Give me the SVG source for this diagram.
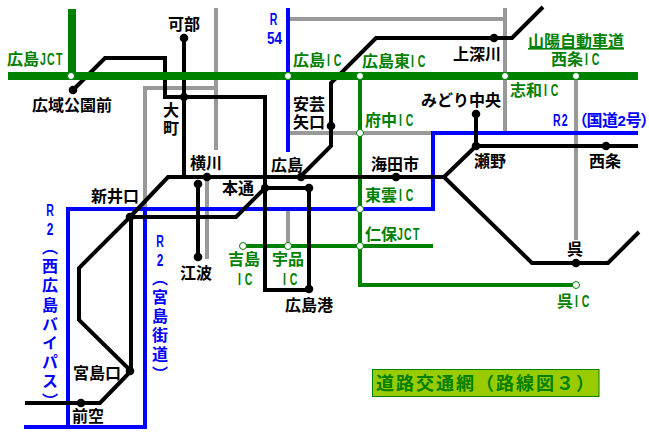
<svg xmlns="http://www.w3.org/2000/svg" width="649" height="438" viewBox="0 0 649 438">
<style>
text{font-family:"Noto Sans CJK JP","Noto Sans",sans-serif;font-weight:700;font-size:16px}
.k{fill:#000}.g{fill:#008000}.b{fill:#0000ff}
.n{font-family:"Liberation Sans",sans-serif;font-size:17px}
.ic{letter-spacing:6px}
.jct{letter-spacing:2px}
.p{font-feature-settings:"palt"}
.m{text-anchor:middle}
.v{writing-mode:vertical-rl;letter-spacing:3.2px}
.l{fill:none;stroke-linejoin:miter;stroke-linecap:butt}
.gy{stroke:#999;stroke-width:4}.bk{stroke:#000;stroke-width:4}.bl{stroke:#00f;stroke-width:4}
.gn{stroke:#008000;stroke-width:4}.gn8{stroke:#008000;stroke-width:8}
.st{fill:#000}.o{fill:#fff;stroke:#008000;stroke-width:1}
</style>
<rect width="649" height="438" fill="#fff"/>
<g id="connectors">
<path class="l gy" d="M216 8V150M216 88H145V209M288 19H505M505 8V133M288 133H433M576 76V240M207 180V259M288 209V246"/>
<path class="l bl" d="M288 8V152M24 427H145V209M68 427V209H433V133H638"/>
<path class="l gn" d="M243 246H433M360 76V285H576"/>
<path class="l bk" d="M73 90L105 58H165V97H265V290H309V188H265L236 217H130L79 268V320L131 371L100 403H25M131 217V371M184 38V177M198 183V257M130 217L168 177H444L476 146H638M444 177L532 263H608L639 232M300 177L331 146V83L376 38H512L543 7M476 114V146"/>
<path class="l gn8" d="M8 76H638M72 9V76"/>
</g>
<g id="nodes">
<g id="n-hiroshima-jct"><circle class="o" cx="71" cy="76" r="3.500"/><text class="g" x="7" y="65">広島</text><text class="g n jct" transform="translate(40 65) scale(.62 1)">JCT</text></g>
<g id="n-hiroshima-ic"><circle class="o" cx="288" cy="76" r="3.500"/><text class="g" x="293" y="66">広島</text><text class="g n ic" transform="translate(327 66) scale(.62 1)">IC</text></g>
<g id="n-higashi-ic"><circle class="o" cx="360" cy="76" r="3.500"/><text class="g" x="362" y="67">広島東</text><text class="g n ic" transform="translate(411 67) scale(.62 1)">IC</text></g>
<g id="n-shiwa-ic"><circle class="o" cx="505" cy="76" r="3.500"/><text class="g" x="510" y="96">志和</text><text class="g n ic" transform="translate(544 96) scale(.62 1)">IC</text></g>
<g id="n-saijo-ic"><circle class="o" cx="576" cy="76" r="3.500"/><text class="g" x="551" y="65">西条</text><text class="g n ic" transform="translate(585 65) scale(.62 1)">IC</text></g>
<g id="n-sanyo"><text class="g" x="528" y="47" text-decoration="underline">山陽自動車道</text></g>
<g id="n-fuchu-ic"><circle class="o" cx="360" cy="133" r="3.500"/><text class="g" x="365" y="126">府中</text><text class="g n ic" transform="translate(399 126) scale(.62 1)">IC</text></g>
<g id="n-shinonome-ic"><circle class="o" cx="360" cy="209" r="3.500"/><text class="g" x="365" y="201">東雲</text><text class="g n ic" transform="translate(399 201) scale(.62 1)">IC</text></g>
<g id="n-niho-jct"><circle class="o" cx="360" cy="246" r="3.500"/><text class="g" x="365" y="240">仁保</text><text class="g n jct" transform="translate(397 240) scale(.62 1)">JCT</text></g>
<g id="n-yoshijima-ic"><circle class="o" cx="243" cy="246" r="3.500"/><text class="g" x="228" y="265">吉島</text><text class="g n ic" transform="translate(238 285) scale(.62 1)">IC</text></g>
<g id="n-ujina-ic"><circle class="o" cx="288" cy="246" r="3.500"/><text class="g" x="272" y="265">宇品</text><text class="g n ic" transform="translate(283 285) scale(.62 1)">IC</text></g>
<g id="n-kure-ic"><circle class="o" cx="576" cy="285" r="3.500"/><text class="g" x="557" y="307">呉</text><text class="g n ic" transform="translate(575 307) scale(.62 1)">IC</text></g>
<g id="n-kabe"><circle class="st" cx="184" cy="38" r="4.300"/><text class="k" x="168" y="30">可部</text></g>
<g id="n-koiki"><circle class="st" cx="73" cy="90" r="4.300"/><text class="k" x="32" y="111">広域公園前</text></g>
<g id="n-omachi"><circle class="st" cx="184" cy="97" r="4"/><text class="k" x="163" y="116">大</text><text class="k" x="163" y="134">町</text></g>
<g id="n-yokogawa"><circle class="st" cx="207" cy="177" r="4.300"/><text class="k" x="190" y="169">横川</text></g>
<g id="n-hiroshima"><circle class="st" cx="301" cy="177" r="4.300"/><text class="k" x="271" y="171">広島</text></g>
<g id="n-hondori"><circle class="st" cx="265" cy="188" r="4"/><text class="k" x="222" y="194">本通</text></g>
<g id="n-hakushima"><circle class="st" cx="309" cy="188" r="4.300"/><circle class="st" cx="198" cy="184" r="4.300"/></g>
<g id="n-aki"><circle class="st" cx="331" cy="126" r="4.300"/><text class="k" x="293" y="110">安芸</text><text class="k" x="293" y="128">矢口</text></g>
<g id="n-kamifukawa"><circle class="st" cx="494" cy="38" r="4.300"/><text class="k" x="453" y="60">上深川</text></g>
<g id="n-midori"><circle class="st" cx="476" cy="114" r="4.300"/><text class="k" x="421" y="106">みどり中央</text></g>
<g id="n-seno"><circle class="st" cx="476" cy="146" r="4.300"/><text class="k" x="474" y="167">瀬野</text></g>
<g id="n-saijo"><circle class="st" cx="606" cy="146" r="4.300"/><text class="k" x="589" y="167">西条</text></g>
<g id="n-kaita"><circle class="st" cx="396" cy="177" r="4.300"/><text class="k" x="371" y="170">海田市</text></g>
<g id="n-shinoiguchi"><circle class="st" cx="130" cy="217" r="4.300"/><text class="k" x="91" y="202">新井口</text></g>
<g id="n-eba"><circle class="st" cx="198" cy="257" r="4.300"/><text class="k" x="180" y="279">江波</text></g>
<g id="n-port"><circle class="st" cx="309" cy="289" r="4.300"/><text class="k" x="285" y="311">広島港</text></g>
<g id="n-kure"><circle class="st" cx="576" cy="263" r="4.300"/><text class="k" x="567" y="255">呉</text></g>
<g id="n-miyajimaguchi"><circle class="st" cx="130" cy="371" r="4.300"/><text class="k" x="73" y="379">宮島口</text></g>
<g id="n-maezora"><circle class="st" cx="81" cy="403" r="4.300"/><text class="k" x="72" y="422">前空</text></g>
<g id="r54"><text class="b n m" transform="translate(273.500 25) scale(.62 1)">R</text><text class="b n m" transform="translate(274.500 44) scale(.8 1)">54</text></g>
<g id="r2-east"><text class="b n jct" transform="translate(553 126) scale(.62 1)">R2</text><text class="b" x="579" y="126" style="letter-spacing:-.5px"><tspan class="p">（</tspan>国道<tspan class="n" style="font-size:15px">2</tspan>号<tspan class="p">）</tspan></text></g>
<g id="r2-bypass"><text class="b n m" transform="translate(50 216) scale(.62 1)">R</text><text class="b n m" transform="translate(50 235) scale(.7 1)">2</text><text class="b v" x="50" y="239">（西広島バイパス）</text></g>
<g id="r2-miyajima"><text class="b n m" transform="translate(160 247) scale(.62 1)">R</text><text class="b n m" transform="translate(160 266) scale(.7 1)">2</text><text class="b v" x="160" y="269.500">（宮島街道）</text></g>
<g id="title"><rect x="372.500" y="369.500" width="226.500" height="27" fill="#99cc00" stroke="#008000"/><text class="g" x="376" y="390" letter-spacing="2" style="font-size:18px">道路交通網（路線図３）</text></g>
</g>
</svg>
